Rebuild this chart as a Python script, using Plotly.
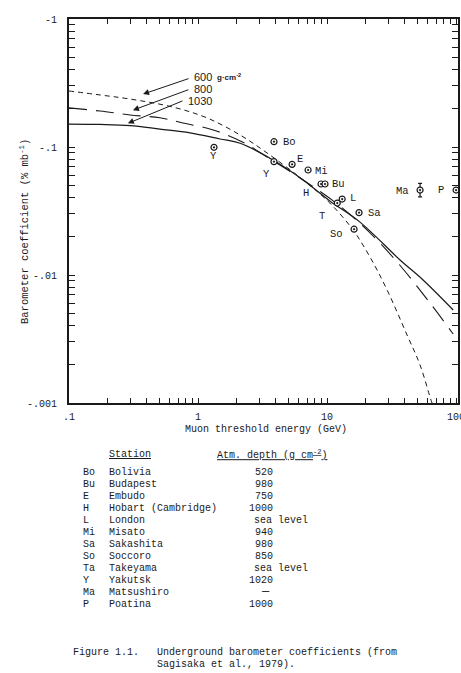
import math
import plotly.graph_objects as go

# ---------------- data ----------------
# Curves: |barometer coefficient| (% per mb) vs muon threshold energy (GeV)
e_1030 = [0.1, 0.174, 0.297, 0.507, 0.867, 1.48, 2.12, 3.81, 6.52, 10.5, 18.0, 36.8, 55.5, 95]
b_1030 = [0.151, 0.150, 0.147, 0.138, 0.129, 0.1155, 0.107, 0.0791, 0.0553, 0.0379, 0.0259, 0.0131, 0.00914, 0.00533]

e_800 = [0.1, 0.174, 0.297, 0.507, 0.765, 1.31, 2.23, 3.43, 6.52, 12.0, 20.4, 34.9, 62.8, 95]
b_800 = [0.202, 0.191, 0.178, 0.169, 0.154, 0.136, 0.109, 0.0835, 0.0553, 0.0359, 0.0225, 0.01264, 0.00604, 0.00346]

e_600 = [0.1, 0.174, 0.297, 0.640, 1.17, 2.12, 3.43, 6.52, 10.5, 15.9, 21.5, 29.2, 41.7, 52.6, 64.0, 66.4]
b_600 = [0.274, 0.255, 0.237, 0.205, 0.169, 0.124, 0.0898, 0.0553, 0.0365, 0.0225, 0.01384, 0.00764, 0.00340, 0.00198, 0.00105, 0.00095]

# Station measurements
pt_code = ["Bo", "Y", "Y", "E", "Mi", "Bu", "", "L", "T", "Sa", "So", "Ma", "P"]
pt_energy = [3.88, 1.33, 3.88, 5.36, 7.13, 8.98, 9.64, 13.1, 12.0, 17.7, 16.2, 52.6, 100]
pt_coef = [0.110, 0.0995, 0.0768, 0.0732, 0.0661, 0.0514, 0.0514, 0.0392, 0.0365, 0.0307, 0.0228, 0.0461, 0.0461]
pt_err_up = [0, 0, 0, 0, 0, 0, 0, 0, 0, 0, 0, 0.0059, 0]
pt_err_dn = [0, 0, 0, 0, 0, 0, 0, 0, 0, 0, 0, 0.0053, 0]

# label-only station (no marker visible)
h_code, h_energy, h_coef = "H", 6.88, 0.0441

# Axis ticks
x_major = [0.1, 1, 10, 100]
x_major_text = [".1", "1", "10", "100"]
y_major = [0.001, 0.01, 0.1, 1]
y_major_text = ["-.001", "-.01", "-.1", "-1"]

# Curve labels (atmospheric depths)
depth_labels = ["600", "800", "1030"]
depth_arrow_energy = [0.375, 0.313, 0.286]
depth_arrow_coef = [0.259, 0.194, 0.153]

# Table
tab_code = ["Bo", "Bu", "E", "H", "L", "Mi", "Sa", "So", "Ta", "Y", "Ma", "P"]
tab_name = ["Bolivia", "Budapest", "Embudo", "Hobart (Cambridge)", "London", "Misato",
            "Sakashita", "Soccoro", "Takeyama", "Yakutsk", "Matsushiro", "Poatina"]
tab_depth = ["520", "980", "750", "1000", "sea level", "940", "980", "850",
             "sea level", "1020", "\u2014", "1000"]

# ---------------- layout helpers ----------------
W, H = 461, 673
L, R, T, B = 69, 458, 19, 403  # plot area pixels


def px(x):
    return (x - L) / (R - L)


def py(y):
    return (B - y) / (B - T)


FONT = "Liberation Mono, Courier New, monospace"
INK = "#1a1a1a"


def minor_ticks(lo_exp, hi_exp):
    vals = []
    for e in range(lo_exp, hi_exp):
        for d in range(1, 10):
            vals.append(d * 10 ** e)
    vals.append(10 ** hi_exp)
    return vals


def tick_texts(vals, majors, texts):
    out = []
    for v in vals:
        lab = ""
        for m, t in zip(majors, texts):
            if abs(v - m) < 1e-9 * m:
                lab = t
        out.append(lab)
    return out


x_tickvals = minor_ticks(-1, 2)
x_ticktext = tick_texts(x_tickvals, x_major, x_major_text)
y_tickvals = minor_ticks(-3, 0)
y_ticktext = tick_texts(y_tickvals, y_major, y_major_text)

fig = go.Figure()

fig.add_trace(go.Scatter(x=e_600, y=b_600, mode="lines", line=dict(color=INK, width=1, dash="5px,4px", shape="spline"), hoverinfo="skip"))
fig.add_trace(go.Scatter(x=e_800, y=b_800, mode="lines", line=dict(color=INK, width=1.1, dash="18px,9px", shape="spline"), hoverinfo="skip"))
fig.add_trace(go.Scatter(x=e_1030, y=b_1030, mode="lines", line=dict(color=INK, width=1.2, shape="spline"), hoverinfo="skip"))

fig.add_trace(go.Scatter(
    x=pt_energy, y=pt_coef, mode="markers",
    marker=dict(symbol="circle-dot", size=6, color="white", line=dict(color=INK, width=1.2)),
    error_y=dict(type="data", symmetric=False, array=pt_err_up, arrayminus=pt_err_dn,
                 color=INK, thickness=1.2, width=2),
    cliponaxis=False, hoverinfo="skip"))

annotations = []

# point labels
offsets = {
    0: (7, 0, "left"), 1: (-1, -9, "center"), 2: (-7, -12, "center"), 3: (3, 5, "left"),
    4: (5, -1, "left"), 5: (9, 0, "left"), 7: (6, 1, "left"), 8: (-15, -13, "center"),
    9: (7, 0, "left"), 10: (-18, -5, "center"), 11: (-18, -1, "center"), 12: (-15, 0, "center"),
}
for i, (c, e, b) in enumerate(zip(pt_code, pt_energy, pt_coef)):
    if not c:
        continue
    dx, dy, anc = offsets[i]
    annotations.append(dict(x=math.log10(e), y=math.log10(b), xref="x", yref="y", text=c,
                            showarrow=False, xshift=dx, yshift=dy, xanchor=anc, yanchor="middle",
                            font=dict(family=FONT, size=10.5, color=INK)))
annotations.append(dict(x=math.log10(h_energy), y=math.log10(h_coef), xref="x", yref="y", text=h_code,
                        showarrow=False, xanchor="center", yanchor="middle",
                        font=dict(family=FONT, size=10.5, color=INK)))

# depth arrows
tails = [(47, -16), (57, -21), (56, -23)]
for e, b, (ax, ay) in zip(depth_arrow_energy, depth_arrow_coef, tails):
    annotations.append(dict(x=math.log10(e), y=math.log10(b), xref="x", yref="y", text="",
                            showarrow=True, ax=ax, ay=ay, arrowhead=2, arrowsize=1.2,
                            arrowwidth=1, arrowcolor=INK, standoff=0))
lab_pos = [(192, 76.5), (192, 88.5), (186, 100.5)]
for t, (x0, y0) in zip(depth_labels, lab_pos):
    annotations.append(dict(x=px(x0), y=py(y0), xref="paper", yref="paper", text=t, showarrow=False,
                            xanchor="left", yanchor="middle",
                            font=dict(family="Liberation Sans, Arial, sans-serif", size=11, color=INK)))
annotations.append(dict(x=px(215), y=py(76.5), xref="paper", yref="paper",
                        text="<b>g\u00b7cm<sup>-2</sup></b>", showarrow=False,
                        xanchor="left", yanchor="middle",
                        font=dict(family="Liberation Sans, Arial, sans-serif", size=8, color=INK)))

# axis titles
annotations.append(dict(x=px(266), y=py(429), xref="paper", yref="paper",
                        text="Muon threshold energy (GeV)", showarrow=False,
                        xanchor="center", yanchor="middle", font=dict(family=FONT, size=10, color=INK)))
annotations.append(dict(x=px(24), y=py(232), xref="paper", yref="paper",
                        text="Barometer coefficient (% mb<sup>-1</sup>)", showarrow=False, textangle=-90,
                        xanchor="center", yanchor="middle", font=dict(family=FONT, size=10.5, color=INK)))

# table
annotations.append(dict(x=px(107), y=py(454), xref="paper", yref="paper", text="<u>Station</u>",
                        showarrow=False, xanchor="left", yanchor="middle", font=dict(family=FONT, size=10, color=INK)))
annotations.append(dict(x=px(215), y=py(454), xref="paper", yref="paper",
                        text="<u>Atm. depth (g cm<sup>-2</sup>)</u>",
                        showarrow=False, xanchor="left", yanchor="middle", font=dict(family=FONT, size=10, color=INK)))
for i, (c, n, d) in enumerate(zip(tab_code, tab_name, tab_depth)):
    yy = 472.3 + i * 12.0
    annotations.append(dict(x=px(81), y=py(yy), xref="paper", yref="paper", text=c, showarrow=False,
                            xanchor="left", yanchor="middle", font=dict(family=FONT, size=10, color=INK)))
    annotations.append(dict(x=px(107), y=py(yy), xref="paper", yref="paper", text=n, showarrow=False,
                            xanchor="left", yanchor="middle", font=dict(family=FONT, size=10, color=INK)))
    if d == "sea level":
        annotations.append(dict(x=px(252), y=py(yy), xref="paper", yref="paper", text=d, showarrow=False,
                                xanchor="left", yanchor="middle", font=dict(family=FONT, size=10, color=INK)))
    elif d.isdigit():
        annotations.append(dict(x=px(275), y=py(yy), xref="paper", yref="paper", text=d, showarrow=False,
                                xanchor="right", yanchor="middle", font=dict(family=FONT, size=10, color=INK)))
    else:
        annotations.append(dict(x=px(265), y=py(yy), xref="paper", yref="paper", text=d, showarrow=False,
                                xanchor="center", yanchor="middle", font=dict(family=FONT, size=12, color=INK)))

# caption
annotations.append(dict(x=px(71), y=py(652), xref="paper", yref="paper", text="Figure 1.1.",
                        showarrow=False, xanchor="left", yanchor="middle", font=dict(family=FONT, size=10, color=INK)))
annotations.append(dict(x=px(155), y=py(652), xref="paper", yref="paper",
                        text="Underground barometer coefficients (from",
                        showarrow=False, xanchor="left", yanchor="middle", font=dict(family=FONT, size=10, color=INK)))
annotations.append(dict(x=px(155), y=py(664.5), xref="paper", yref="paper",
                        text="Sagisaka et al., 1979).",
                        showarrow=False, xanchor="left", yanchor="middle", font=dict(family=FONT, size=10, color=INK)))

axis_common = dict(showgrid=False, zeroline=False, showline=True, linecolor=INK, mirror="ticks",
                   ticks="inside", tickcolor=INK, tickwidth=1.3, automargin=False,
                   ticklabeloverflow="allow",
                   tickfont=dict(family=FONT, size=10, color=INK))

fig.update_layout(
    width=W, height=H,
    margin=dict(l=L, r=W - R, t=T, b=H - B, pad=0),
    paper_bgcolor="white", plot_bgcolor="white",
    showlegend=False,
    annotations=annotations,
    xaxis=dict(type="log", range=[-1, 2.015], tickmode="array", tickvals=x_tickvals, ticktext=x_ticktext,
               ticklen=5, linewidth=2, ticklabelstandoff=3, **axis_common),
    yaxis=dict(type="log", range=[-3, 0], tickmode="array", tickvals=y_tickvals, ticktext=y_ticktext,
               ticklen=6, linewidth=2, ticklabelstandoff=8, **axis_common),
)

fig.write_html("out.html")
